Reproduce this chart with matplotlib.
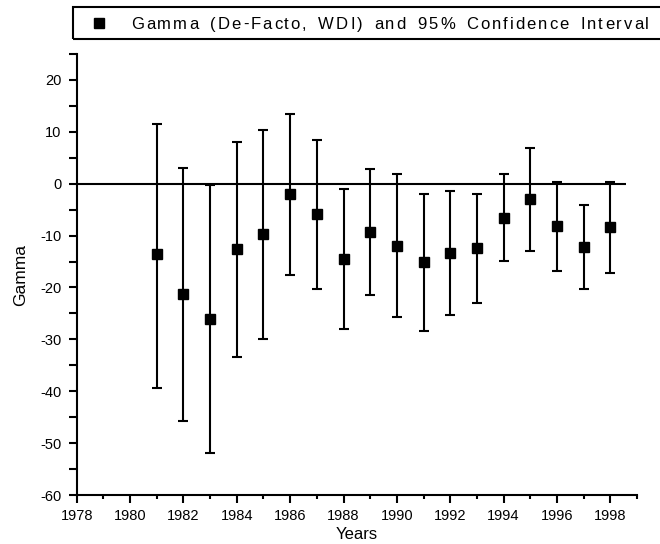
import numpy as np
import matplotlib
matplotlib.use("Agg")
import matplotlib.pyplot as plt
from matplotlib.patches import Rectangle
from matplotlib.lines import Line2D
from matplotlib.ticker import MultipleLocator
from matplotlib.textpath import TextToPath
from matplotlib.font_manager import FontProperties

plt.rcParams["font.family"] = ["Liberation Sans", "DejaVu Sans"]
plt.rcParams["axes.unicode_minus"] = False

# point estimates and 95% CI bounds per year
years = np.arange(1981, 1999)
gamma = np.array([-13.6, -21.3, -26.1, -12.6, -9.7, -1.9, -5.9, -14.6, -9.4,
                  -12.1, -15.1, -13.4, -12.4, -6.7, -3.0, -8.2, -12.2, -8.4])
ci_upper = np.array([11.6, 3.1, -0.3, 8.1, 10.4, 13.5, 8.5, -1.1, 2.8,
                     1.9, -1.9, -1.5, -1.9, 1.9, 6.9, 0.4, -4.2, 0.4])
ci_lower = np.array([-39.3, -45.8, -51.9, -33.4, -29.9, -17.6, -20.3, -28.0, -21.5,
                     -25.7, -28.4, -25.3, -23.0, -14.9, -13.0, -16.9, -20.3, -17.2])
legend_label = "Gamma (De-Facto, WDI) and 95% Confidence Interval"

W, H = 660, 544
fig = plt.figure(figsize=(W / 100, H / 100), dpi=100)
ax = fig.add_axes([76.7 / W, 1 - 495 / H, (637 - 76.7) / W, (495 - 54) / H])

ax.hlines(0, 1978, 1998.6, color="black", lw=1.5, zorder=1)
ax.errorbar(years, gamma, yerr=[gamma - ci_lower, ci_upper - gamma],
            fmt="s", color="black", ms=6.5, elinewidth=1.5,
            capsize=3.3, capthick=1.5, zorder=2)

ax.set_xlim(1978, 1999)
ax.set_ylim(-60, 25)
ax.xaxis.set_major_locator(MultipleLocator(2))
ax.xaxis.set_minor_locator(MultipleLocator(1))
ax.yaxis.set_major_locator(MultipleLocator(10))
ax.yaxis.set_minor_locator(MultipleLocator(5))
ax.set_yticks(np.arange(-60, 21, 10))

for side in ("top", "right"):
    ax.spines[side].set_visible(False)
for side in ("left", "bottom"):
    ax.spines[side].set_linewidth(1.5)

ax.tick_params(axis="x", which="major", length=6, width=1.5, pad=4, labelsize=10.5)
ax.tick_params(axis="x", which="minor", length=3, width=1.5)
ax.tick_params(axis="y", which="both", length=6, width=1.5, pad=5, labelsize=10.5)

ax.set_xlabel("Years", fontsize=12, labelpad=3)
ax.set_ylabel("Gamma", fontsize=12.5, labelpad=9)

# legend box at the top, partly running off the right edge
fig.add_artist(Rectangle((73.3 / W, 1 - 38.5 / H), 1.05 - 73.3 / W, 31.2 / H,
                         transform=fig.transFigure, fill=False,
                         lw=1.5, ec="black", clip_on=False))
fig.add_artist(Line2D([99 / W], [1 - 23 / H], marker="s", ms=7,
                      color="black", transform=fig.transFigure))

# legend text: letter tracking plus a little extra between words
fp = FontProperties(family="Liberation Sans", size=12)
ttp = TextToPath()


def text_w(s):
    w, _, _ = ttp.get_text_width_height_descent(s + "x", fp, ismath=False)
    wx, _, _ = ttp.get_text_width_height_descent("x", fp, ismath=False)
    return (w - wx) * fig.dpi / 72


x0, x1 = 131, 649
natural = text_w(legend_label[:-1]) + ttp.get_text_width_height_descent(
    legend_label[-1], fp, ismath=False)[0] * fig.dpi / 72
n_gaps = len(legend_label) - 1
n_spaces = legend_label.count(" ")
track = 2.0
word_gap = max(0.0, (x1 - x0 - natural - n_gaps * track) / n_spaces)
shift = 0.0
for i, ch in enumerate(legend_label):
    if ch == " ":
        shift += word_gap
        continue
    xp = x0 + text_w(legend_label[:i]) + i * track + shift
    fig.text(xp / W, 1 - 23 / H, ch, fontproperties=fp,
             ha="left", va="center_baseline")

fig.savefig("out.png", dpi=100)
